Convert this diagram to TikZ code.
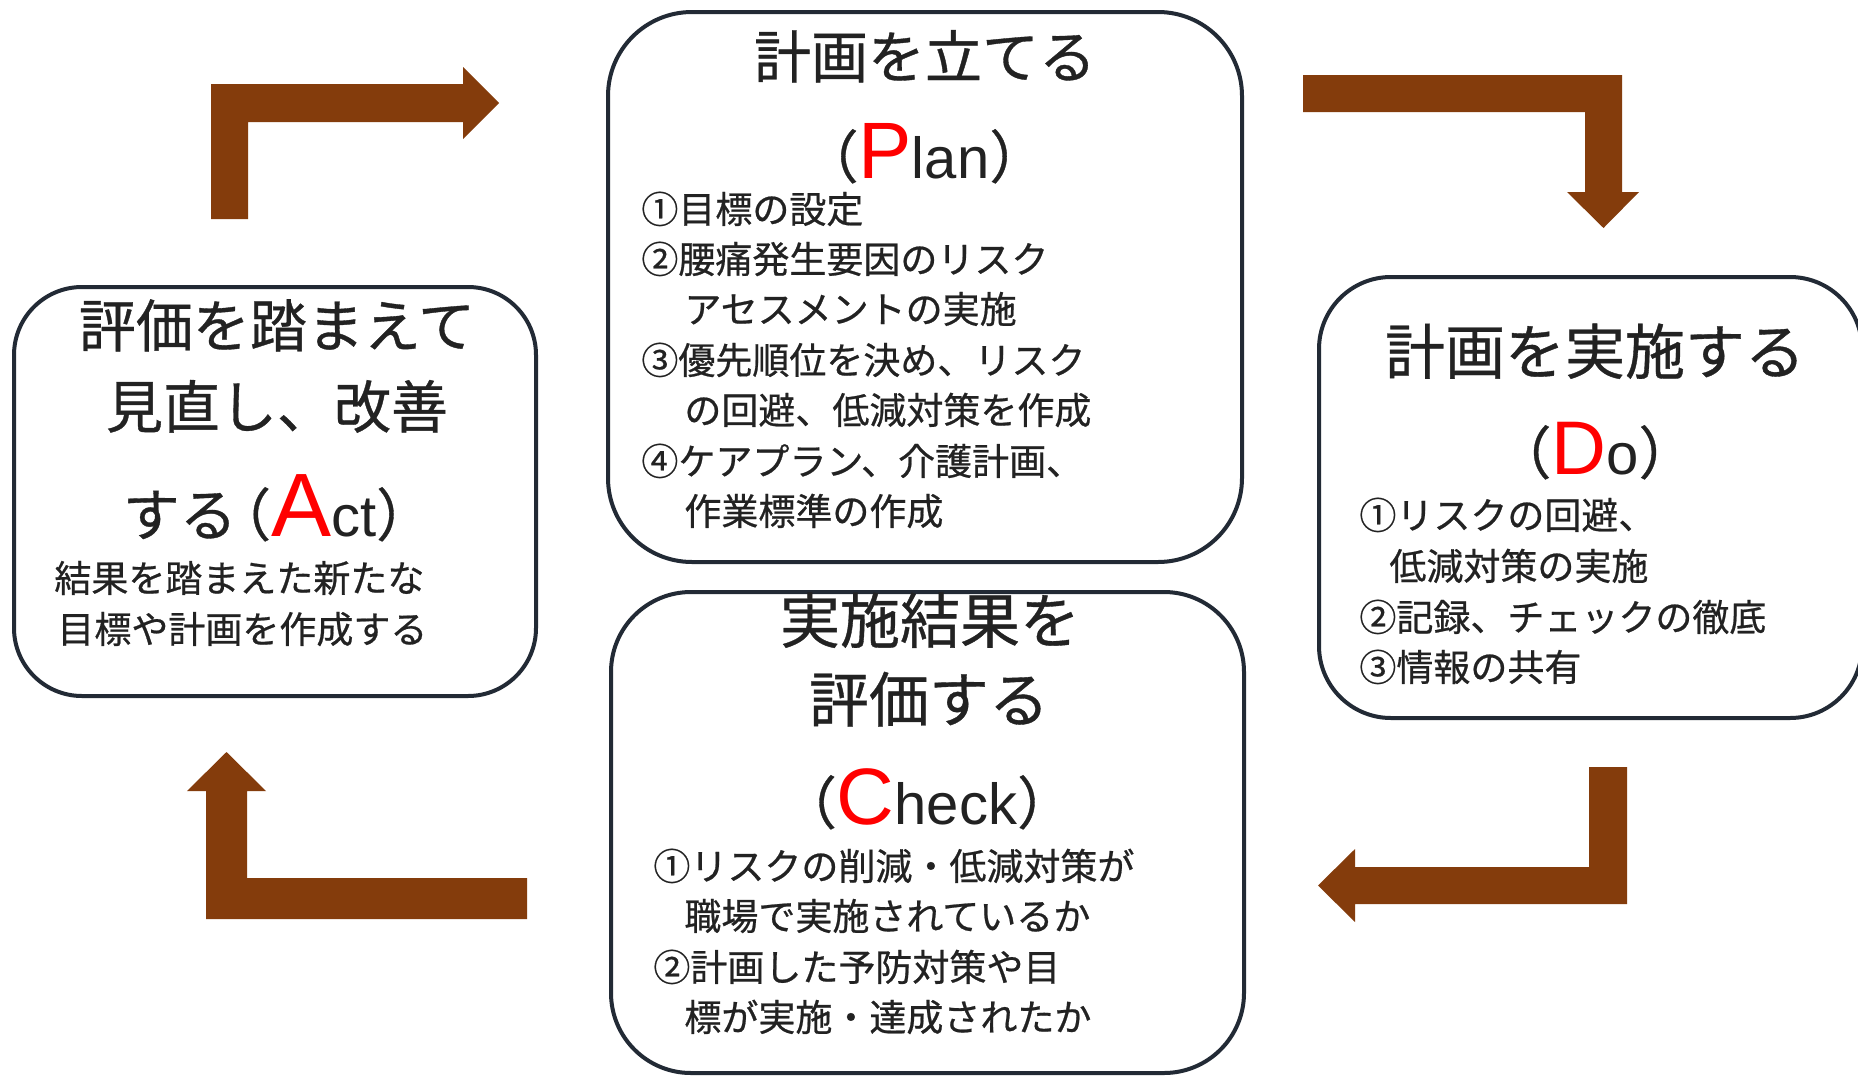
\documentclass[tikz,border=0pt]{standalone}
\usepackage{fontspec}
\setmainfont{Noto Sans CJK JP}[FakeBold=0.6]
\newfontfamily\latf{Liberation Sans}
\definecolor{brn}{HTML}{843C0C}
\definecolor{edgec}{HTML}{222A35}
\definecolor{inkc}{HTML}{222222}
\definecolor{pdcared}{HTML}{FF0000}
\newcommand\pdcaletter[2][40pt]{{\latf\fontsize{#1}{#1}\selectfont\color{pdcared}#2}}
\newcommand\latsmall[1]{{\latf\fontsize{29pt}{30pt}\selectfont #1}}
\tikzset{
  box/.style={draw=edgec, line width=2pt, rounded corners=#1, fill=white, inner sep=0pt},
  ttl/.style={font=\fontsize{28.5pt}{34pt}\selectfont, text=inkc, inner sep=0pt, anchor=base},
  bigttl/.style={ttl, font=\fontsize{30pt}{36pt}\selectfont},
  itm/.style={font=\fontsize{18.5pt}{22pt}\selectfont, text=inkc, inner sep=0pt, anchor=base west},
  barrow/.style={fill=brn, draw=none}
}
\begin{document}
\begin{tikzpicture}[x=0.5pt,y=-0.5pt]
\useasboundingbox (0,0) rectangle (1858,1076);
\fill[white] (0,0) rectangle (1858,1076);

% boxes
\node[box=42pt, minimum width=317pt, minimum height=275pt] (plan) at (925,287) {};
\node[box=36pt, minimum width=271.5pt, minimum height=220.5pt] (do) at (1590.5,497.5) {};
\node[box=34pt, minimum width=261pt, minimum height=204.5pt] (act) at (275,491.5) {};
\node[box=40pt, minimum width=316.5pt, minimum height=240.5pt] (check) at (927.5,832.5) {};

% arrows
\fill[barrow] (211,219) -- (211,84) -- (463,84) -- (463,67) -- (499,103) -- (463,139) -- (463,122) -- (248,122) -- (248,219) -- cycle;
\fill[barrow] (1303,75) -- (1622,75) -- (1622,192) -- (1639,192) -- (1603.5,228) -- (1567,192) -- (1585,192) -- (1585,112) -- (1303,112) -- cycle;
\fill[barrow] (1627,767) -- (1627,904) -- (1355,904) -- (1355,922) -- (1318,885.5) -- (1355,849) -- (1355,867) -- (1589,867) -- (1589,767) -- cycle;
\fill[barrow] (527,878) -- (527,919) -- (206,919) -- (206,791) -- (187,791) -- (226.5,752) -- (266,791) -- (247,791) -- (247,878) -- cycle;

% Plan
\node[ttl] (plant) at (925,78) {計画を立てる};
\node[ttl] (plane) at (924,178) {（\pdcaletter{P}\latsmall{lan}）};
\node[itm] (p1) at (641,223) {①目標の設定};
\node[itm] (p2) at (641,273) {②腰痛発生要因のリスク};
\node[itm] (p3) at (684,323) {アセスメントの実施};
\node[itm] (p4) at (641,374) {③優先順位を決め、リスク};
\node[itm] (p5) at (684,424) {の回避、低減対策を作成};
\node[itm] (p6) at (641,475) {④ケアプラン、介護計画、};
\node[itm] (p7) at (684,525) {作業標準の作成};

% Act
\node[ttl] (actt1) at (277,347) {評価を踏まえて};
\node[ttl] (actt2) at (277,428) {見直し、改善};
\node[ttl] (actt3) at (278,536) {する\kern-0.4em（\pdcaletter[45pt]{A}\latsmall{ct}）};
\node[itm] (a1) at (54,592) {結果を踏まえた新たな};
\node[itm] (a2) at (57,643) {目標や計画を作成する};

% Do
\node[bigttl] (dot) at (1595,374) {計画を実施する};
\node[ttl] (doe) at (1595,474) {（\pdcaletter[38pt]{D}\latsmall{o}）};
\node[itm] (d1) at (1359,529) {①リスクの回避、};
\node[itm] (d2) at (1389,580) {低減対策の実施};
\node[itm] (d3) at (1359,631) {②記録、チェックの徹底};
\node[itm] (d4) at (1359,681) {③情報の共有};

% Check
\node[bigttl] (ct1) at (930,643) {実施結果を};
\node[bigttl] (ct2) at (929,722) {評価する};
\node[ttl] (ce) at (927,824) {（\pdcaletter{C}\latsmall{heck}）};
\node[itm] (c1) at (653,880) {①リスクの削減・低減対策が};
\node[itm] (c2) at (684,930) {職場で実施されているか};
\node[itm] (c3) at (653,981) {②計画した予防対策や目};
\node[itm] (c4) at (684,1031) {標が実施・達成されたか};
\end{tikzpicture}
\end{document}
